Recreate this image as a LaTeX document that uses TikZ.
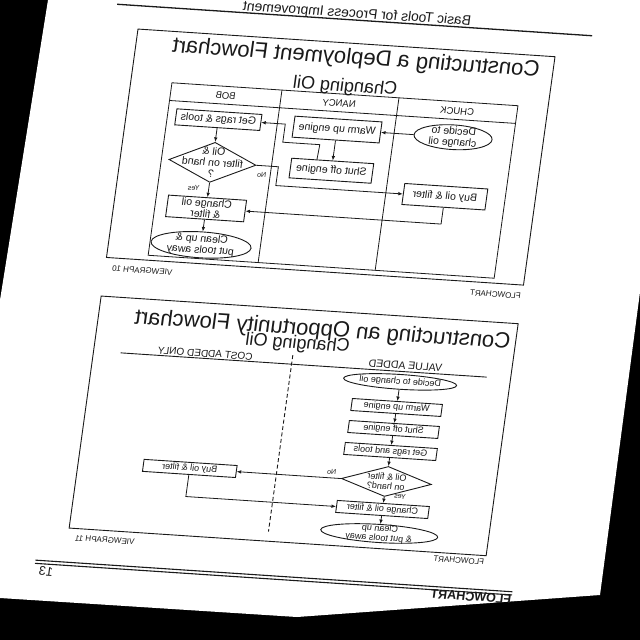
\documentclass[tikz,border=0pt]{standalone}
\usepackage{fontspec}
\setmainfont{Liberation Sans}
\usepackage{tikz}
\usetikzlibrary{shapes.geometric,arrows.meta}
\definecolor{scanink}{HTML}{1A1A1A}
\newcommand{\fsz}[2]{\fontsize{#1}{#2}\selectfont}
\tikzset{
    flowbox/.style={rectangle, draw=scanink, line width=0.9pt, inner sep=0pt,
        align=center, text=scanink, minimum width=#1},
    termnode/.style={ellipse, draw=scanink, line width=0.9pt, inner sep=-6pt,
        align=center, text=scanink, minimum width=#1},
    decnode/.style={diamond, aspect=2.2, draw=scanink, line width=0.9pt,
        inner sep=-12pt, align=center, text=scanink, minimum width=#1},
    deploy/.style={font=\fsz{10.5}{11}},
    oppty/.style={font=\fsz{9}{9.5}},
    flowarrow/.style={draw=scanink, line width=0.8pt,
        -{Latex[length=4.5pt,width=3.6pt]}},
    ruleline/.style={draw=scanink, line width=#1},
    pagetext/.style={text=scanink, inner sep=0pt, font=#1},
    lanehead/.style={text=scanink, inner sep=0pt, font=\fsz{9.5}{10}},
    yesno/.style={text=scanink, inner sep=0pt, font=\fsz{7}{8}},
}

\begin{document}
\begin{tikzpicture}[x=1pt, y=1pt]

    % ── Scanned sheet on black ─────────────────────────────────────────────
    \useasboundingbox (0,0) rectangle (640,-640);
    \fill[black] (0,0) rectangle (640,-640);
    \fill[white] (48,0) -- (640,0) -- (640,-292) -- (600,-595)
        -- (297,-617) -- (0,-598) -- (0,-300) -- cycle;

    % sheet is mirrored and skewed on the scan
    \begin{scope}[shift={(555,-56.7)}, cm={-1,0.0663,0.138,1,(0,0)},
                  transform shape]

    % ── Running head ───────────────────────────────────────────────────────
    \draw[ruleline=1.3pt] (-34,23.2) -- (441,23.2);
    \node[pagetext={\fsz{13.8}{16}}] (runhead) at (202,29)
        {Basic Tools for Process Improvement};

    % ── Deployment chart: frame and lanes ──────────────────────────────────
    \draw[ruleline=0.9pt] (0,0) rectangle (417,-228.4);
    \node[pagetext={\fsz{22}{24}}] (deptitle) at (197,-15)
        {Constructing a Deployment Flowchart};
    \node[pagetext={\fsz{18}{20}}] (depsub) at (204,-43.6) {Changing Oil};
    \draw[ruleline=0.8pt] (30,-51) rectangle (376,-223.5);
    \draw[ruleline=0.8pt] (30,-68.7) -- (376,-68.7)
        (149,-51) -- (149,-223.5)
        (266,-51) -- (266,-223.5);
    \node[lanehead] (chuck) at (89.5,-60.5) {CHUCK};
    \node[lanehead] (nancy) at (207.5,-60.5) {NANCY};
    \node[lanehead] (bob)   at (321,-60.5)  {BOB};

    % ── Deployment chart: steps ────────────────────────────────────────────
    \node[termnode=78pt, minimum height=24.5pt, deploy] (decide) at (90,-86.5)
        {Decide to\\change oil};
    \node[flowbox=87pt, minimum height=21pt, deploy] (warm) at (206,-86.5)
        {Warm up engine};
    \node[flowbox=85pt, minimum height=16pt, deploy] (rags) at (325,-84.5)
        {Get rags \& tools};
    \node[flowbox=82pt, minimum height=19.6pt, deploy] (shut) at (206,-127.7)
        {Shut off engine};
    \node[decnode=87pt, minimum height=40pt, deploy] (check) at (325,-127.2)
        {Oil \&\\filter on hand\\?};
    \node[flowbox=83pt, minimum height=21pt, deploy] (buy) at (90,-146)
        {Buy oil \& filter};
    \node[flowbox=78pt, minimum height=21.5pt, deploy] (change) at (325,-173.3)
        {Change oil\\\& filter};
    \node[termnode=100pt, minimum height=25.8pt, deploy] (clean) at (325,-209.7)
        {Clean up \&\\put tools away};

    % ── Deployment chart: connectors ───────────────────────────────────────
    \coordinate (jogA) at (221,-102.6);
    \coordinate (jogB) at (258,-102.6);
    \coordinate (jogC) at (258,-84.5);
    \coordinate (noA)  at (259,-127.2);
    \coordinate (noB)  at (259,-146);
    \coordinate (buyC) at (90,-173.3);
    \draw[flowarrow] (decide.east) -- (warm.west);
    \draw[flowarrow] (warm.south) -- (shut.north);
    \draw[flowarrow] (shut.33) -- (jogA) -- (jogB) -- (jogC) -- (rags.west);
    \draw[flowarrow] (rags.south) -- (check.north);
    \draw[flowarrow] (check.west) -- (noA) -- (noB) -- (buy.east);
    \draw[flowarrow] (check.south) -- (change.north);
    \draw[flowarrow] (buy.south) -- (buyC) -- (change.west);
    \draw[flowarrow] (change.south) -- (clean.north);
    \node[yesno] (depno)  at (274.5,-136.5) {No};
    \node[yesno] (depyes) at (340,-154) {Yes};

    \node[pagetext={\fsz{8}{9}}, anchor=east] (vg10) at (410,-239) {VIEWGRAPH 10};
    \node[pagetext={\fsz{8}{9}}, anchor=west] (fc10) at (1,-239.5) {FLOWCHART};

    % ── Opportunity chart: frame and split ─────────────────────────────────
    \draw[ruleline=0.9pt] (0,-267) rectangle (417,-499);
    \node[pagetext={\fsz{22}{24}}] (opptitle) at (193,-286.5)
        {Constructing an Opportunity Flowchart};
    \node[pagetext={\fsz{18}{20}}] (oppsub) at (216,-301.5) {Changing Oil};
    \draw[ruleline=0.9pt] (24,-322) -- (390,-322);
    \draw[ruleline=0.9pt, dash pattern=on 4pt off 2.5pt] (219,-313) -- (219,-489.5);
    \node[pagetext={\fsz{10.5}{11}}] (valadd) at (106,-316) {VALUE ADDED};
    \node[pagetext={\fsz{10}{11}}] (costadd) at (306,-317) {COST ADDED ONLY};

    % ── Opportunity chart: steps ───────────────────────────────────────────
    \node[termnode=113pt, minimum height=14.7pt, oppty] (decide2) at (109,-332.4)
        {Decide to change oil};
    \node[flowbox=90pt, minimum height=12pt, oppty] (warm2) at (109,-358)
        {Warm up engine};
    \node[flowbox=90pt, minimum height=12pt, oppty] (shut2) at (109,-380)
        {Shut off engine};
    \node[flowbox=92pt, minimum height=12pt, oppty] (rags2) at (109,-402)
        {Get rags and tools};
    \node[decnode=90pt, minimum height=30pt, oppty] (check2) at (109,-432)
        {Oil \& filter\\on hand?};
    \node[flowbox=92pt, minimum height=12pt, oppty] (change2) at (109,-460)
        {Change oil \& filter};
    \node[termnode=117pt, minimum height=18pt, oppty] (clean2) at (109,-484)
        {Clean up\\\& put tools away};
    \node[flowbox=93pt, minimum height=12pt, oppty] (buy2) at (305.6,-432)
        {Buy oil \& filter};

    % ── Opportunity chart: connectors ──────────────────────────────────────
    \coordinate (buyD) at (305.6,-460);
    \draw[flowarrow] (decide2.south) -- (warm2.north);
    \draw[flowarrow] (warm2.south) -- (shut2.north);
    \draw[flowarrow] (shut2.south) -- (rags2.north);
    \draw[flowarrow] (rags2.south) -- (check2.north);
    \draw[flowarrow] (check2.south) -- (change2.north);
    \draw[flowarrow] (change2.south) -- (clean2.north);
    \draw[flowarrow] (check2.east) -- (buy2.west);
    \draw[flowarrow] (buy2.south) -- (buyD) -- (change2.east);
    \node[yesno] (oppno)  at (164.5,-426) {No};
    \node[yesno] (oppyes) at (93.4,-446) {Yes};

    \node[pagetext={\fsz{8}{9}}, anchor=east] (vg11) at (410,-508.5) {VIEWGRAPH 11};
    \node[pagetext={\fsz{8}{9}}, anchor=west] (fc11) at (1,-505.5) {FLOWCHART};

    % ── Page foot ──────────────────────────────────────────────────────────
    \draw[ruleline=1.1pt] (-31,-533) -- (446,-533);
    \draw[ruleline=1.1pt] (-31,-536.2) -- (446,-536.2);
    \node[pagetext={\fsz{12.5}{14}}] (pageno) at (434,-543.5) {13};
    \node[pagetext={\bfseries\fsz{12.5}{14}}, anchor=west] (foot) at (-31,-540.5)
        {FLOWCHART};

    \end{scope}
\end{tikzpicture}
\end{document}
